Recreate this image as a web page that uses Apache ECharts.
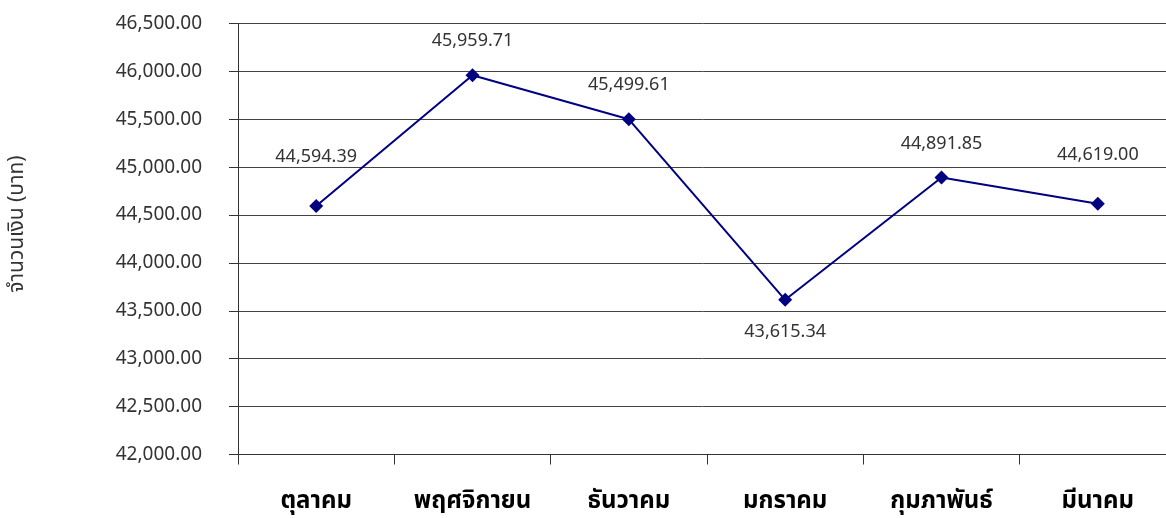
<!DOCTYPE html>
<html lang="th">
<head>
<meta charset="UTF-8">
<title>จำนวนเงิน</title>
<style>
  html, body { margin: 0; padding: 0; background: #fff; }
  #chart { width: 1166px; height: 518px; }
</style>
</head>
<body>
<div id="chart"></div>
<script src="https://cdn.jsdelivr.net/npm/echarts@6/dist/echarts.min.js"></script>
<script>
var months = ['ตุลาคม', 'พฤศจิกายน', 'ธันวาคม', 'มกราคม', 'กุมภาพันธ์', 'มีนาคม'];
var amounts = [44594.39, 45959.71, 45499.61, 43615.34, 44891.85, 44619.00];
var yMin = 42000, yMax = 46500, yStep = 500;

function fmt(v) {
    return v.toLocaleString('en-US', { minimumFractionDigits: 2, maximumFractionDigits: 2 });
}

// label placement per point (first/last sit higher, the dip goes below)
var labelDist = [33, 18, 18, 16, 18, 33];
var seriesData = amounts.map(function (v, i) {
    var below = i === 3;
    return {
        value: v,
        label: { position: below ? 'bottom' : 'top', distance: labelDist[i] }
    };
});

var chart = echarts.init(document.getElementById('chart'));
chart.setOption({
    animation: false,
    textStyle: { fontFamily: '"Noto Sans", "Noto Sans Thai", sans-serif' },
    grid: { left: 238, top: 23.5, width: 938, height: 431, outerBoundsMode: 'none' },
    xAxis: {
        type: 'category',
        data: months,
        boundaryGap: true,
        axisLine: { lineStyle: { color: '#333', width: 1 } },
        axisTick: { show: true, length: 10, lineStyle: { color: '#333' } },
        axisLabel: { color: '#000', fontSize: 24, fontWeight: 'bold', margin: 35 },
        splitLine: { show: false }
    },
    yAxis: {
        type: 'value',
        min: yMin, max: yMax, interval: yStep,
        name: 'จำนวนเงิน (บาท)',
        nameLocation: 'middle',
        nameRotate: 90,
        nameGap: 210,
        nameTextStyle: { color: '#333', fontSize: 21, padding: [0, 0, 0, 30] },
        axisLine: { show: true, lineStyle: { color: '#333' } },
        axisTick: { show: true, length: 9, lineStyle: { color: '#333' } },
        axisLabel: { color: '#333', fontSize: 19, margin: 36, formatter: fmt },
        splitLine: { lineStyle: { color: '#444', width: 1 } }
    },
    series: [{
        type: 'line',
        data: seriesData,
        symbol: 'diamond',
        symbolSize: 14,
        itemStyle: { color: '#000080' },
        lineStyle: { color: '#000080', width: 2 },
        label: {
            show: true,
            color: '#333',
            fontSize: 18,
            formatter: function (p) { return fmt(p.value); }
        }
    }]
});
</script>
</body>
</html>
